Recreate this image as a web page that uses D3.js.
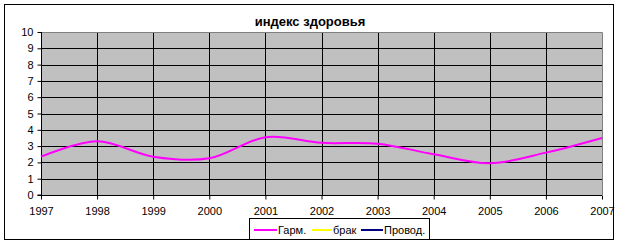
<!DOCTYPE html>
<html lang="ru">
<head>
<meta charset="UTF-8">
<title>индекс здоровья</title>
<style>
  body { margin: 0; background: #fff; }
  svg { display: block; font-family: "Liberation Sans", Arial, sans-serif; }
</style>
</head>
<body>
<svg id="chart" width="622" height="244"></svg>
<script src="https://d3js.org/d3.v7.min.js"></script>
<script>
const years = [1997, 1998, 1999, 2000, 2001, 2002, 2003, 2004, 2005, 2006, 2007];
const garm = [2.35, 3.3, 2.35, 2.25, 3.55, 3.2, 3.15, 2.5, 1.95, 2.6, 3.5];
const brak = [];
const provod = [];
const yTicks = [0, 1, 2, 3, 4, 5, 6, 7, 8, 9, 10];
const seriesNames = ["Гарм.", "брак", "Провод."];
const seriesColors = ["#ff00ff", "#ffff00", "#000080"];

const svg = d3.select("#chart");
const plotL = 41, plotR = 602, plotT = 32, plotB = 195;

const x = d3.scaleLinear().domain([1997, 2007]).range([plotL, plotR]);
const y = d3.scaleLinear().domain([0, 10]).range([plotB, plotT]);

// outer frame
svg.append("rect")
  .attr("x", 4.5).attr("y", 4.5)
  .attr("width", 609).attr("height", 235)
  .attr("fill", "#fff").attr("stroke", "#000");

// title
svg.append("text")
  .attr("x", 310).attr("y", 26)
  .attr("text-anchor", "middle")
  .style("font-size", "13px").style("font-weight", "bold")
  .text("индекс здоровья");

// plot area
svg.append("rect")
  .attr("x", plotL).attr("y", plotT)
  .attr("width", plotR - plotL).attr("height", plotB - plotT)
  .attr("fill", "#c0c0c0");

// grid
svg.append("g")
  .selectAll("line")
  .data(yTicks.filter(d => d > 0 && d < 10))
  .join("line")
  .attr("x1", plotL).attr("x2", plotR)
  .attr("y1", d => Math.round(y(d)) + 0.5).attr("y2", d => Math.round(y(d)) + 0.5)
  .attr("stroke", "#000");

svg.append("g")
  .selectAll("line")
  .data(years.slice(1, -1))
  .join("line")
  .attr("x1", d => Math.round(x(d)) + 0.5).attr("x2", d => Math.round(x(d)) + 0.5)
  .attr("y1", plotT).attr("y2", plotB)
  .attr("stroke", "#000");

// grey top/right border of plot area
svg.append("path")
  .attr("d", `M${plotL},${plotT + 0.5}H${plotR + 0.5}V${plotB}`)
  .attr("fill", "none").attr("stroke", "#808080");

// axes
const yAxis = d3.axisLeft(y).tickValues(yTicks).tickSize(4).tickPadding(4);
const gy = svg.append("g").attr("transform", `translate(${plotL + 0.5},0)`).call(yAxis);
const xAxis = d3.axisBottom(x).tickValues(years).tickFormat(d3.format("d")).tickSize(4).tickPadding(8);
const gx = svg.append("g").attr("transform", `translate(0,${plotB + 0.5})`).call(xAxis);
[gy, gx].forEach(g => {
  g.select(".domain").attr("stroke", "#000");
  g.selectAll(".tick line").attr("stroke", "#000");
  g.selectAll(".tick text").attr("fill", "#000")
    .style("font-size", "11px").style("font-family", "\"Liberation Sans\", Arial, sans-serif");
});
gy.select(".domain").attr("d", `M-4,${y(0)}H0V${plotT}`);
gx.select(".domain").attr("d", `M${plotL},0H${plotR}`);

// series
const line = d3.line()
  .x((d, i) => x(years[i]))
  .y(d => y(d))
  .curve(d3.curveCatmullRom.alpha(0));

[garm, brak, provod].forEach((vals, i) => {
  if (!vals.length) return;
  svg.append("path")
    .datum(vals)
    .attr("d", line)
    .attr("fill", "none")
    .attr("stroke", seriesColors[i])
    .attr("stroke-width", 2);
});

// legend
const legend = svg.append("g");
legend.append("rect")
  .attr("x", 249.5).attr("y", 218.5)
  .attr("width", 180).attr("height", 21)
  .attr("fill", "#fff").attr("stroke", "#000");
const legendX = [254, 312, 361];
const legendW = [23, 20, 22];
seriesNames.forEach((name, i) => {
  legend.append("line")
    .attr("x1", legendX[i]).attr("x2", legendX[i] + legendW[i])
    .attr("y1", 230).attr("y2", 230)
    .attr("stroke", seriesColors[i]).attr("stroke-width", 2);
  legend.append("text")
    .attr("x", legendX[i] + legendW[i] + 1).attr("y", 234)
    .style("font-size", "11px")
    .text(name);
});
</script>
</body>
</html>
